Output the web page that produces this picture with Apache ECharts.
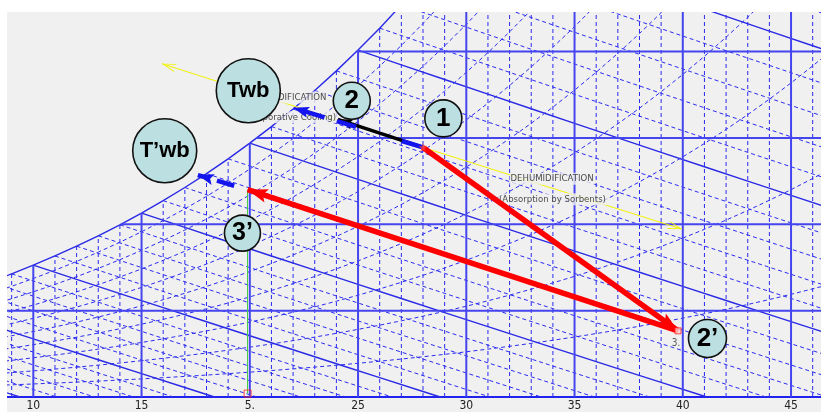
<!DOCTYPE html>
<html>
<head>
<meta charset="utf-8">
<script src="https://cdn.jsdelivr.net/npm/echarts@6/dist/echarts.min.js"></script>
<style>
  html, body { margin: 0; padding: 0; background: #ffffff; width: 821px; height: 412px; overflow: hidden; }
  #chart { position: absolute; left: 7px; top: 12px; width: 814px; height: 400px; background: #f0f0f0; }
</style>
</head>
<body>
<div id="chart"></div>
<script>
// ---- Psychrometric base data (sea level, 101.325 kPa) ----
const tableTempC = [0,1,2,3,4,5,6,7,8,9,10,11,12,13,14,15,16,17,18,19,20,21,22,23,24,25,26,27,28,29,30,31,32,33,34,35,36,37,38,39,40,41,42,43,44,45,46,47];
const satPressureKPa = [0.6112,0.6571,0.7060,0.7581,0.8135,0.8725,0.9353,1.0020,1.0729,1.1481,1.2280,1.3128,1.4026,1.4979,1.5987,1.7055,1.8185,1.9380,2.0643,2.1978,2.3389,2.4878,2.6448,2.8105,2.9852,3.1693,3.3633,3.5674,3.7823,4.0084,4.2462,4.4961,4.7586,5.0345,5.3242,5.6280,5.9468,6.2812,6.6315,6.9988,7.3838,7.7866,8.2081,8.6495,9.1110,9.5935,10.098,10.624];
const rhLevels = [10,20,30,40,50,60,70,80,90];
const wetBulbTemps = [0,1,2,3,4,5,6,7,8,9,10,11,12,13,14,15,16,17,18,19,20,21,22,23,24,25,26,27,28,29,30,31];
const dryBulbTemps = [9,10,11,12,13,14,15,16,17,18,19,20,21,22,23,24,25,26,27,28,29,30,31,32,33,34,35,36,37,38,39,40,41,42,43,44,45,46];
const humidityLevels = [5,10,15,20];
// bottom scale: the state-5 tag sits where the 20 °C tick would be
const tickValues = [10,15,20,25,30,35,40,45];
const tickLabels = ['10','15','5.','25','30','35','40','45'];

// ---- Process states: [dry bulb °C, humidity ratio g/kg] ----
const state1 = [28.0, 14.45];
const state2 = [24.07, 16.07];
const state2p = [39.78, 3.83];
const state3p = [19.9, 12.0];
const state5 = [19.9, 0.2];
const twbPoint = [22.0, 16.75];
const twbPrimePoint = [17.6, 12.85];
const humidifyEnd = [15.94, 19.3];
const dehumidifyEnd = [39.96, 9.72];

// ---- Callout bubbles and process notes ----
const calloutNames = ['Twb', 'T\u2019wb', '2', '1', '3\u2019', '2\u2019'];
const calloutAt = [[19.93,17.73],[16.07,14.26],[24.71,17.15],[28.94,16.13],[19.66,9.49],[41.14,3.39]];
const noteTexts = ['HUMIDIFICATION', '(Evaporative Cooling)', 'DEHUMIDIFICATION', '(Absorption by Sorbents)'];
const noteAt = [[21.9,17.34],[21.85,16.19],[33.96,12.64],[33.98,11.45]];

// ---- helpers ----
const P_ATM = 101.325;
const ratioFromPv = pv => 622 * pv / (P_ATM - pv);        // g/kg
const wsTable = satPressureKPa.map(ratioFromPv);
function wsAt(t) {
  const i = Math.min(Math.max(Math.floor(t - tableTempC[0]), 0), tableTempC.length - 2);
  const f = t - tableTempC[i];
  return wsTable[i] * (1 - f) + wsTable[i + 1] * f;
}
function dewPoint(w) {
  for (let i = 0; i < wsTable.length - 1; i++) {
    if (wsTable[i + 1] >= w) return tableTempC[i] + (w - wsTable[i]) / (wsTable[i + 1] - wsTable[i]);
  }
  return tableTempC[tableTempC.length - 1];
}
function wetBulbLine(twb) {
  const wsk = wsAt(twb) / 1000;
  const a = (2501 - 2.326 * twb) * wsk;
  const tZero = twb + a / 1.006;
  const tEnd = Math.min(tZero, 48);
  const pts = [];
  for (let t = twb; t < tEnd; t += 2) {
    pts.push([t, 1000 * (a - 1.006 * (t - twb)) / (2501 + 1.86 * t - 4.186 * twb)]);
  }
  pts.push([tEnd, 1000 * (a - 1.006 * (tEnd - twb)) / (2501 + 1.86 * tEnd - 4.186 * twb)]);
  return pts;
}

// ---- grid line families ----
const gridSolidThick = [];   // dry bulb every 5 °C, humidity ratio every 5 g/kg
const gridSolidThin = [];    // saturation curve, wet bulb every 5 °C
const gridDashed = [];       // dry bulb 1 °C, wet bulb 1 °C, RH 10 %
dryBulbTemps.forEach(t => {
  (t % 5 === 0 ? gridSolidThick : gridDashed).push({ coords: [[t, 0], [t, wsAt(t)]] });
});
humidityLevels.forEach(w => gridSolidThick.push({ coords: [[dewPoint(w), w], [48, w]] }));
gridSolidThin.push({ coords: tableTempC.map((t, i) => [t, wsTable[i]]) });
rhLevels.forEach(rh => {
  gridDashed.push({ coords: tableTempC.map((t, i) => [t, ratioFromPv(rh / 100 * satPressureKPa[i])]) });
});
wetBulbTemps.forEach(twb => {
  (twb % 5 === 0 ? gridSolidThin : gridDashed).push({ coords: wetBulbLine(twb) });
});

// ---- arrowhead shapes: square box, tip at the centre, body trailing behind ----
const BOX = 'M-20,0 L-19.9,0 L-20,0.1 Z M20,0 L19.9,0 L20,0.1 Z ';
const HEAD_FILLED = 'path://' + BOX + 'M0,20 L7,40 L0,36 L-7,40 Z';
const HEAD_OPEN = 'path://' + BOX + 'M0,20 L6,40 L4.6,40 L0,24 L-4.6,40 L-6,40 Z';
const STAR = 'path://M0,-10 L2,-3 L9,-4 L3,1 L6,8 L0,3 L-6,8 L-3,1 L-9,-4 L-2,-3 Z';

const FONT_NARROW = '"Liberation Sans Narrow", "DejaVu Sans Condensed", "Liberation Sans", sans-serif';
const FONT_BOLD = '"Liberation Sans", Arial, sans-serif';
const calloutStyle = {
  'Twb': { size: 64, font: 22 }, 'T\u2019wb': { size: 64, font: 22 },
  '2': { size: 37, font: 26 }, '1': { size: 37, font: 26 },
  '3\u2019': { size: 36, font: 25 }, '2\u2019': { size: 38, font: 26 }
};

function gridLines(data, color, width, type, z) {
  return { type: 'lines', coordinateSystem: 'cartesian2d', polyline: true, clip: true, silent: true, z,
    data, lineStyle: { color, width, type, opacity: 1 } };
}
function arrow(from, to, color, width, head, headSize, type, z, dashOffset) {
  return { type: 'lines', coordinateSystem: 'cartesian2d', clip: false, silent: true, z,
    symbol: ['none', head], symbolSize: headSize,
    data: [{ coords: [from, to] }],
    lineStyle: { color, width, type: type || 'solid', dashOffset: dashOffset || 0, opacity: 1, curveness: 0 } };
}

const chart = echarts.init(document.getElementById('chart'), null, { renderer: 'canvas' });
chart.setOption({
  animation: false,
  backgroundColor: '#f0f0f0',
  grid: { left: 0, right: 0, top: 0, bottom: 14, containLabel: false },
  xAxis: {
    type: 'value', min: 8.785, max: 46.384,
    axisLine: { show: true, lineStyle: { color: '#2222ee', width: 2 } },
    axisTick: { show: false }, splitLine: { show: false },
    axisLabel: {
      customValues: tickValues,
      formatter: v => tickLabels[tickValues.indexOf(v)],
      margin: 3, fontSize: 12, color: '#222', fontFamily: FONT_NARROW
    }
  },
  yAxis: { type: 'value', min: 0, max: 22.29, show: false, splitLine: { show: false } },
  series: [
    gridLines(gridDashed, '#2b2bf2', 1, [4, 3], 1),
    gridLines(gridSolidThin, '#2a2ae6', 1.4, 'solid', 1),
    gridLines(gridSolidThick, '#4545f0', 2, 'solid', 1),
    // process guide lines
    arrow(state1, humidifyEnd, '#f2f200', 1, HEAD_OPEN, 28, 'solid', 2),
    arrow(state1, dehumidifyEnd, '#f2f200', 1, HEAD_OPEN, 28, 'solid', 2),
    {
      type: 'scatter', z: 3, silent: true, symbolSize: 1,
      itemStyle: { color: 'rgba(0,0,0,0)' },
      data: noteTexts.map((t, i) => ({ value: noteAt[i], name: t })),
      label: { show: true, position: 'inside', formatter: p => p.name, fontSize: 9.5,
        fontFamily: FONT_NARROW, color: '#1a1a1a', backgroundColor: '#f0f0f0', padding: [1, 1] }
    },
    arrow(state3p, state5, '#44cc44', 1, 'none', 1, 'solid', 3),
    arrow(state1, state2, '#000000', 3.5, HEAD_FILLED, 30, 'solid', 4),
    arrow(state1, twbPoint, '#1414ee', 4.5, HEAD_FILLED, 32, [22, 48, 20, 13], 5),
    arrow(state3p, twbPrimePoint, '#1414ee', 4.5, HEAD_FILLED, 32, [18, 14], 5, 18),
    arrow(state1, state2p, '#ff0000', 5.5, HEAD_FILLED, 40, 'solid', 6),
    arrow(state2p, state3p, '#ff0000', 5.5, HEAD_FILLED, 40, 'solid', 6),
    // state markers
    {
      type: 'scatter', z: 7, silent: true,
      data: [
        { value: state1, symbol: STAR, symbolSize: 9, itemStyle: { color: '#ff4040' } },
        { value: state2p, symbol: 'rect', symbolSize: 6, itemStyle: { color: '#ffd0d0', borderColor: '#ff2020', borderWidth: 1 },
          label: { show: true, formatter: '3.', position: 'bottom', distance: 4, offset: [-2, 0] } },
        { value: state3p, symbol: 'none', symbolSize: 1,
          label: { show: true, formatter: '4', position: 'bottom', distance: 5, offset: [2, 0] } },
        { value: state5, symbol: 'rect', symbolSize: 7, itemStyle: { color: 'rgba(0,0,0,0)', borderColor: '#ff2020', borderWidth: 1 } }
      ],
      label: { fontSize: 10, color: '#333', fontFamily: FONT_NARROW }
    },
    // callout bubbles
    {
      type: 'scatter', z: 8, silent: true, symbol: 'circle',
      data: calloutNames.map((n, i) => ({
        value: calloutAt[i], name: n, symbolSize: calloutStyle[n].size,
        label: { fontSize: calloutStyle[n].font }
      })),
      itemStyle: { color: '#bcdfe1', borderColor: '#111111', borderWidth: 1.6, opacity: 1 },
      label: { show: true, position: 'inside', formatter: p => p.name, color: '#000',
        fontWeight: 'bold', fontFamily: FONT_BOLD }
    }
  ]
});
</script>
</body>
</html>
